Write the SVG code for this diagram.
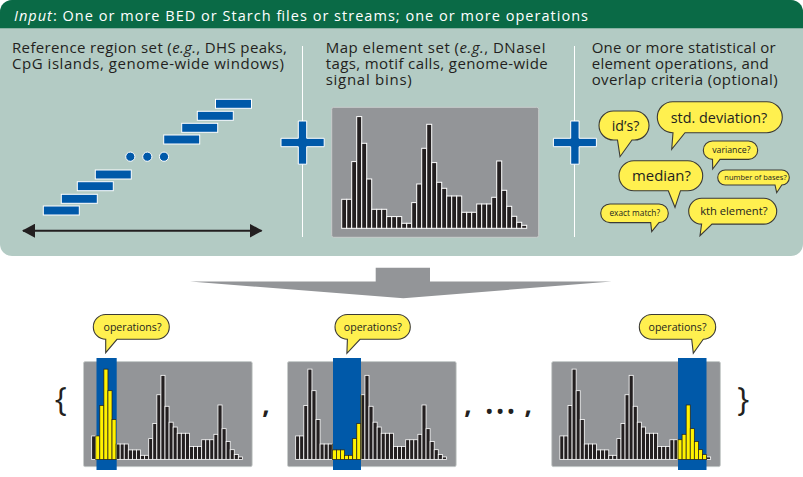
<svg xmlns="http://www.w3.org/2000/svg" xmlns:xlink="http://www.w3.org/1999/xlink" width="803" height="477" viewBox="0 0 803 477">
<style>
.txt{font-family:"Open Sans","Liberation Sans",sans-serif;fill:#231f20}
.hd{font-size:15px}
.hdr{font-family:"Open Sans","Liberation Sans",sans-serif;font-size:14.5px;fill:#fff}
.blk{fill:#0059a9;stroke:#fff;stroke-width:1}
.plus{fill:#0059a9;stroke:#fff;stroke-width:1}
.div{stroke:#fff;stroke-width:1}
.bub{fill:#fff04f;stroke:#3b3a36;stroke-width:1.1}
.bt{font-family:"Open Sans","Liberation Sans",sans-serif;fill:#231f20;text-anchor:middle}
.dbars{fill:#231f20;stroke:#fff;stroke-width:1}
.ybars{fill:#fff200;stroke:#231f20;stroke-width:0.9}
.hl{fill:#0059a9}
.gray{fill:#939598}
</style>
<defs>
<marker id="ah" viewBox="0 0 13 14" markerWidth="13" markerHeight="14" refX="12" refY="7" orient="auto-start-reverse" markerUnits="userSpaceOnUse">
<path d="M0,0 L13,7 L0,14 Z" fill="#231f20"/>
</marker>
<rect id="box" x="0" y="0" width="207" height="130" rx="2" fill="#939598" stroke="#c9cdcc" stroke-width="1"/>
<g id="bars">
<rect x="10" y="92" width="5" height="29"/><rect x="15" y="92" width="5" height="29"/><rect x="20" y="54.3" width="5" height="66.7"/><rect x="25" y="9.3" width="5" height="111.7"/><rect x="30" y="36" width="5" height="85"/><rect x="35" y="71.7" width="5" height="49.3"/><rect x="40" y="102" width="5" height="19"/><rect x="45" y="102" width="5" height="19"/><rect x="50" y="102" width="5" height="19"/><rect x="55" y="109.3" width="5" height="11.7"/><rect x="60" y="109.3" width="5" height="11.7"/><rect x="65" y="109.3" width="5" height="11.7"/><rect x="70" y="116" width="5" height="5"/><rect x="75" y="116" width="5" height="5"/><rect x="80" y="95.3" width="5" height="25.7"/><rect x="85" y="76.7" width="5" height="44.3"/><rect x="90" y="41" width="5" height="80"/><rect x="95" y="17" width="5" height="104"/><rect x="100" y="55.3" width="5" height="65.7"/><rect x="105" y="75" width="5" height="46"/><rect x="110" y="81" width="5" height="40"/><rect x="115" y="88.7" width="5" height="32.3"/><rect x="120" y="88.7" width="5" height="32.3"/><rect x="125" y="88.7" width="5" height="32.3"/><rect x="130" y="105" width="5" height="16"/><rect x="135" y="105" width="5" height="16"/><rect x="140" y="105" width="5" height="16"/><rect x="145" y="96.7" width="5" height="24.3"/><rect x="150" y="96.7" width="5" height="24.3"/><rect x="155" y="96.7" width="5" height="24.3"/><rect x="160" y="90" width="5" height="31"/><rect x="165" y="53.7" width="5" height="67.3"/><rect x="170" y="83" width="5" height="38"/><rect x="175" y="99" width="5" height="22"/><rect x="180" y="109" width="5" height="12"/><rect x="185" y="115" width="5" height="6"/><rect x="190" y="118" width="5" height="3"/>
</g>
<clipPath id="cp1"><rect x="14.6" y="-10" width="25.8" height="150"/></clipPath>
<clipPath id="cp2"><rect x="54.6" y="-10" width="35.8" height="150"/></clipPath>
<clipPath id="cp3"><rect x="154.6" y="-10" width="35.8" height="150"/></clipPath>
</defs>

<g id="input-panel">
<rect x="0" y="0" width="803" height="256" rx="12" fill="#b3cbc4"/>
<path d="M0,28.3 V12 A12,12 0 0 1 12,0 H791 A12,12 0 0 1 803,12 V28.3 Z" fill="#0a6a46"/>
<text class="hdr" x="14" y="20.7" textLength="574"><tspan font-style="italic">Input</tspan>: One or more BED or Starch files or streams; one or more operations</text>
<line class="div" x1="302.5" y1="46" x2="302.5" y2="237"/>
<line class="div" x1="574.5" y1="46" x2="574.5" y2="237"/>
</g>

<g id="reference-set">
<text class="txt hd" x="12" y="52.5" textLength="275">Reference region set (<tspan font-style="italic">e.g.</tspan>, DHS peaks,</text>
<text class="txt hd" x="12" y="68.5" textLength="272">CpG islands, genome-wide windows)</text>
<rect class="blk" x="43.3" y="206" width="36" height="9"/>
<rect class="blk" x="61.3" y="194.3" width="36" height="9"/>
<rect class="blk" x="77.3" y="181.7" width="36" height="9"/>
<rect class="blk" x="95.3" y="170" width="36" height="9"/>
<circle class="blk" cx="130.3" cy="156.7" r="4.6"/>
<circle class="blk" cx="147.3" cy="156.7" r="4.6"/>
<circle class="blk" cx="164" cy="156.7" r="4.6"/>
<rect class="blk" x="163.7" y="135" width="36" height="9"/>
<rect class="blk" x="181.7" y="123.3" width="36" height="9"/>
<rect class="blk" x="197.3" y="111.3" width="36" height="9"/>
<rect class="blk" x="215.5" y="99.3" width="36" height="9"/>
<line x1="23" y1="230.7" x2="261.5" y2="230.7" stroke="#231f20" stroke-width="2" marker-start="url(#ah)" marker-end="url(#ah)"/>
</g>

<g id="plus-1">
<path class="plus" d="M298.3,121 h8.4 v17.3 h17.5 v8.4 h-17.5 v17.5 h-8.4 v-17.5 h-17.3 v-8.4 h17.3 z"/>
</g>

<g id="map-set">
<text class="txt hd" x="325.7" y="52.5" textLength="220">Map element set (<tspan font-style="italic">e.g.</tspan>, DNaseI</text>
<text class="txt hd" x="325.7" y="68.5" textLength="222">tags, motif calls, genome-wide</text>
<text class="txt hd" x="325.7" y="84.5" textLength="86">signal bins)</text>
<g transform="translate(331.7,107.3)">
<use xlink:href="#box"/>
<use xlink:href="#bars" class="dbars"/>
</g>
</g>

<g id="plus-2">
<path class="plus" d="M570.7,121 h8.4 v17.3 h17.3 v8.4 h-17.3 v17.5 h-8.4 v-17.5 h-17.3 v-8.4 h17.3 z"/>
</g>

<g id="operations">
<text class="txt hd" x="591.7" y="52.5" textLength="184">One or more statistical or</text>
<text class="txt hd" x="591.7" y="68.5" textLength="177">element operations, and</text>
<text class="txt hd" x="591.7" y="84.5" textLength="186">overlap criteria (optional)</text>
<g id="bubble-ids">
<path class="bub" d="M613.5,111 H634.5 A14.5,14.5 0 0 1 634.5,140 H632 L620,156.7 L617.5,140 H613.5 A14.5,14.5 0 0 1 613.5,111 Z"/>
<text class="bt" x="625.5" y="130.5" font-size="14.2">id’s?</text>
</g>
<g id="bubble-std">
<path class="bub" d="M672.8,101.7 H766.8 A15.5,15.5 0 0 1 766.8,132.7 H685 L671.7,149.3 L673,132.7 H672.8 A15.5,15.5 0 0 1 672.8,101.7 Z"/>
<text class="bt" x="719" y="122.5" font-size="14.4">std. deviation?</text>
</g>
<g id="bubble-variance">
<path class="bub" d="M712.5,141 H748.5 A9.2,9.2 0 0 1 748.5,159.4 H720 L712.7,169 L712.5,159.4 A9.2,9.2 0 0 1 712.5,141 Z"/>
<text class="bt" x="731.3" y="153.3" font-size="8.8">variance?</text>
</g>
<g id="bubble-median">
<path class="bub" d="M634,160.7 H687.7 A15,15 0 0 1 687.7,190.7 H680.5 L675,207.3 L668.3,190.7 H634 A15,15 0 0 1 634,160.7 Z"/>
<text class="bt" x="661.5" y="181.2" font-size="14.9">median?</text>
</g>
<g id="bubble-bases">
<path class="bub" d="M725.2,170 H781.8 A7.5,7.5 0 0 1 781.8,185 L776.7,192.7 L775,185 H725.2 A7.5,7.5 0 0 1 725.2,170 Z"/>
<text class="bt" x="755.5" y="180.2" font-size="7.5">number of bases?</text>
</g>
<g id="bubble-exact">
<path class="bub" d="M610,204 H659 A9.3,9.3 0 0 1 659,222.6 L651.7,231.7 L650.7,222.6 H610 A9.3,9.3 0 0 1 610,204 Z"/>
<text class="bt" x="634.7" y="216.3" font-size="8.3">exact match?</text>
</g>
<g id="bubble-kth">
<path class="bub" d="M701.6,198.3 H763.8 A12.9,12.9 0 0 1 763.8,224.1 H712 L700,235.7 L701.6,224.1 A12.9,12.9 0 0 1 701.6,198.3 Z"/>
<text class="bt" x="733.8" y="215.3" font-size="11.2">kth element?</text>
</g>
</g>

<g id="connectors">
<path class="gray" d="M375.7,267.7 H430 V281.5 H611.7 L403.3,298.3 L190,281.5 H375.7 Z"/>
</g>

<g id="result-1">
<g transform="translate(83.5,361.6) scale(0.815,0.808)">
<use xlink:href="#box"/>
<use xlink:href="#bars" class="dbars"/>
</g>
<rect class="hl" x="96.5" y="358" width="20.2" height="112"/>
<g transform="translate(83.5,361.6) scale(0.815,0.808)">
<use xlink:href="#bars" class="ybars" clip-path="url(#cp1)"/>
</g>
<path class="bub" d="M105.7,314.5 H156.9 A12.4,12.4 0 0 1 156.9,339.3 H117 L105.7,352.7 L105.7,339.3 A12.4,12.4 0 0 1 105.7,314.5 Z"/>
<text class="bt" x="132.5" y="330.5" font-size="10.6">operations?</text>
</g>

<g id="result-2">
<g transform="translate(287.5,361.6) scale(0.815,0.808)">
<use xlink:href="#box"/>
<use xlink:href="#bars" class="dbars"/>
</g>
<rect class="hl" x="333" y="358" width="28" height="112"/>
<g transform="translate(287.5,361.6) scale(0.815,0.808)">
<use xlink:href="#bars" class="ybars" clip-path="url(#cp2)"/>
</g>
<path class="bub" d="M347.4,314.5 H397.9 A12.4,12.4 0 0 1 397.9,339.3 H360 L346.9,353.3 L347.4,339.3 A12.4,12.4 0 0 1 347.4,314.5 Z"/>
<text class="bt" x="372.8" y="330.5" font-size="10.6">operations?</text>
</g>

<g id="result-3">
<g transform="translate(551.7,361.6) scale(0.815,0.808)">
<use xlink:href="#box"/>
<use xlink:href="#bars" class="dbars"/>
</g>
<rect class="hl" x="678" y="358" width="28.5" height="112"/>
<g transform="translate(551.7,361.6) scale(0.815,0.808)">
<use xlink:href="#bars" class="ybars" clip-path="url(#cp3)"/>
</g>
<path class="bub" d="M651.7,314.5 H703.3 A12.4,12.4 0 0 1 703.3,339.3 L693.3,353.3 L691.7,339.3 H651.7 A12.4,12.4 0 0 1 651.7,314.5 Z"/>
<text class="bt" x="677.5" y="330.5" font-size="10.6">operations?</text>
</g>

<g id="set-notation">
<text class="bt" x="60.7" y="410.5" font-size="32">{</text>
<text class="bt" x="743.3" y="410.5" font-size="32">}</text>
<text class="bt" x="266" y="414" font-size="26" font-weight="bold">,</text>
<text class="bt" x="468" y="414" font-size="26" font-weight="bold">,</text>
<text class="bt" x="500" y="414.2" font-size="42">…</text>
<text class="bt" x="528.3" y="414" font-size="26" font-weight="bold">,</text>
</g>
</svg>
